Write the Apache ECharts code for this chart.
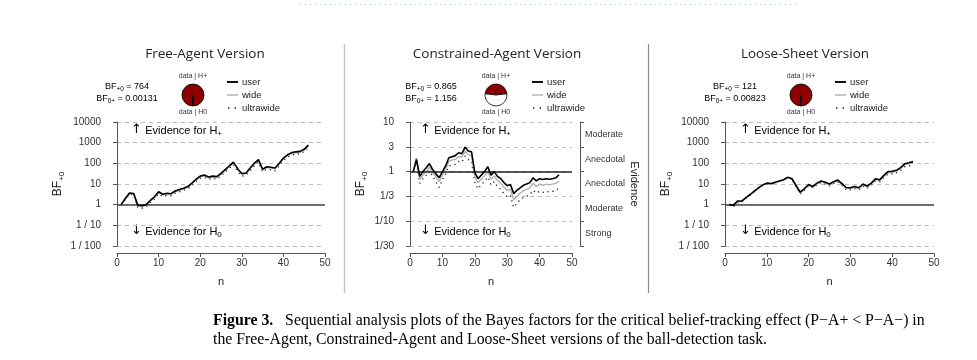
<!DOCTYPE html>
<html><head><meta charset="utf-8">
<script src="https://cdn.jsdelivr.net/npm/echarts@6/dist/echarts.min.js"></script>
<style>html,body{margin:0;padding:0;background:#fff}#c{width:977px;height:360px}</style>
</head><body><div id="c"></div>
<script>
// ---------- DATA ----------
const panelTitles = ['Free-Agent Version', 'Constrained-Agent Version', 'Loose-Sheet Version'];
const seriesNames = ['user', 'wide', 'ultrawide'];
const xTicks = [0, 10, 20, 30, 40, 50];
const tickLabelsWide = ['1 / 100', '1 / 10', '1', '10', '100', '1000', '10000'];
const tickLabelsNarrow = ['1/30', '1/10', '1/3', '1', '3', '10'];
const evidenceLabels = ['Strong', 'Moderate', 'Anecdotal', 'Anecdotal', 'Moderate'];
const bfPlus0 = [764, 0.865, 121];
const bfZeroPlus = ['0.00131', '1.156', '0.00823'];

const freeUser = [1, 2, 3.7, 3.5, 0.95, 0.9, 1.0, 1.6, 2.4, 4.2, 3.2, 3.6, 3.4, 4.6, 5.4, 6.2, 7.5, 11, 17, 24, 27, 22, 24, 23, 33, 50, 75, 115, 55, 32, 34, 60, 100, 150, 52, 68, 65, 60, 100, 180, 260, 330, 360, 380, 480, 764];
const freeWide = [1, 1.9, 3.5, 3.3, 0.9, 0.82, 0.95, 1.5, 2.2, 3.9, 3.0, 3.3, 3.2, 4.3, 5.0, 5.8, 7.0, 10, 16, 22, 25, 20, 22, 21, 30, 46, 70, 105, 50, 29, 31, 55, 92, 140, 48, 62, 60, 55, 92, 165, 240, 300, 330, 350, 440, 700];
const freeUltra = [1, 1.8, 3.3, 3.0, 0.75, 0.68, 0.8, 1.3, 1.9, 3.3, 2.5, 2.8, 2.7, 3.6, 4.2, 4.9, 5.8, 8.5, 13, 19, 21, 17, 19, 17, 25, 38, 58, 88, 41, 24, 26, 45, 76, 115, 39, 51, 49, 44, 76, 140, 200, 250, 280, 290, 370, 600];

const consUser = [1.0, 1.75, 0.8, 1.0, 1.2, 1.45, 1.1, 0.9, 0.75, 1.0, 1.3, 1.9, 2.0, 2.1, 2.4, 2.3, 3.1, 2.6, 2.5, 0.95, 0.72, 0.85, 1.0, 1.25, 0.85, 1.0, 0.8, 0.72, 0.6, 0.52, 0.55, 0.36, 0.42, 0.47, 0.53, 0.56, 0.6, 0.75, 0.65, 0.72, 0.69, 0.72, 0.7, 0.72, 0.75, 0.865];
const consWide = [1.0, 1.9, 0.7, 0.85, 1.0, 1.25, 0.95, 0.78, 0.63, 0.85, 1.1, 1.6, 1.7, 1.75, 2.0, 1.95, 2.6, 2.2, 2.1, 0.78, 0.6, 0.7, 0.82, 1.0, 0.7, 0.82, 0.66, 0.58, 0.48, 0.42, 0.44, 0.27, 0.32, 0.37, 0.41, 0.44, 0.47, 0.58, 0.5, 0.56, 0.53, 0.56, 0.54, 0.56, 0.58, 0.64];
const consUltra = [1.0, 1.7, 0.58, 0.72, 0.85, 1.05, 0.8, 0.62, 0.48, 0.68, 0.9, 1.3, 1.35, 1.4, 1.6, 1.55, 2.05, 1.75, 1.65, 0.6, 0.45, 0.55, 0.63, 0.78, 0.54, 0.63, 0.5, 0.44, 0.36, 0.31, 0.33, 0.19, 0.23, 0.27, 0.3, 0.32, 0.34, 0.42, 0.37, 0.4, 0.38, 0.4, 0.39, 0.4, 0.42, 0.47];

const looseUser = [1, 0.95, 1.5, 1.5, 2.2, 3.1, 4.5, 6.5, 9, 11, 10.5, 12, 14, 16, 21, 18, 8.5, 4.0, 6.0, 9.5, 7.5, 11, 14, 12, 10, 13, 15.5, 10.5, 6.8, 6.6, 7.6, 6.6, 10, 8, 11, 18, 16, 26, 40, 41, 46, 62, 95, 107, 121];
const looseWide = [1, 0.9, 1.35, 1.4, 2.1, 3.0, 4.4, 6.3, 8.8, 10.8, 10.2, 11.8, 13.8, 16, 21, 18, 8.2, 3.7, 5.6, 9.0, 7.0, 10.2, 13, 11, 9.2, 12, 14.2, 9.6, 6.1, 6.0, 6.9, 6.0, 9.1, 7.2, 10, 16.5, 14.5, 23.5, 36, 37, 42, 56, 86, 97, 110];
const looseUltra = [1, 0.8, 1.2, 1.3, 2.0, 2.9, 4.2, 6.1, 8.5, 10.5, 9.8, 11.4, 13.4, 15.6, 20.5, 17, 7.5, 3.2, 5.0, 8.2, 6.3, 9.2, 11.8, 9.9, 8.2, 10.8, 12.8, 8.5, 5.3, 5.2, 6.0, 5.2, 8.0, 6.3, 8.8, 14.5, 12.8, 21, 30, 31, 35, 46, 68, 76, 82];

// ---------- LAYOUT / STYLE ----------
const SANS = 'Liberation Sans, Arial, DejaVu Sans, sans-serif';
const TITLEF = 'Open Sans, Noto Sans, sans-serif';
const SERIF = 'Liberation Serif, Times New Roman, serif';
const grids = [
  {left: 117, top: 122, width: 208, height: 124},
  {left: 410, top: 122, width: 162, height: 124},
  {left: 725, top: 122, width: 209, height: 124}
];
const titleX = [200, 492, 800];
const bfTextX = [127, 431, 735];
const pieX = [193, 496, 801];
const legendX = [227, 532, 835];
const arrowX = [131, 420, 740];

const chart = echarts.init(document.getElementById('c'), null, {renderer: 'canvas'});

function pairs(arr) { return arr.map((v, i) => [i + 1, v]); }

const axisColor = '#555';
function xAxisFor(g) {
  return {
    type: 'value', gridIndex: g, min: 0, max: 50, interval: 10, offset: 7,
    axisLine: {show: true, lineStyle: {color: axisColor, width: 1}},
    axisTick: {show: true, length: 4, lineStyle: {color: axisColor}},
    axisLabel: {fontSize: 10, color: '#333', margin: 5, fontFamily: SANS},
    splitLine: {show: false},
    name: 'n', nameLocation: 'middle', nameGap: 23,
    nameTextStyle: {fontSize: 11, color: '#222', fontFamily: SANS}
  };
}
const bfName = '{a|BF}{s|+0}';
const bfNameStyle = {
  color: '#222', fontFamily: SANS,
  rich: {a: {fontSize: 12, fontFamily: SANS, color: '#222', verticalAlign: 'top'},
         s: {fontSize: 8, fontFamily: SANS, color: '#222', verticalAlign: 'top', padding: [6, 0, 0, 0]}}
};
function logAxisFor(g, wide) {
  const base = wide ? 10 : Math.sqrt(10);
  const labels = wide ? tickLabelsWide : tickLabelsNarrow;
  const minExp = wide ? -2 : -3;
  return {
    type: 'log', gridIndex: g, logBase: base,
    min: Math.pow(base, minExp), max: wide ? 10000 : 10, interval: 1, offset: 11,
    axisLine: {show: true, lineStyle: {color: axisColor, width: 1}},
    axisTick: {show: true, length: 4, lineStyle: {color: axisColor}},
    axisLabel: {
      fontSize: 10, color: '#333', margin: 5, fontFamily: SANS,
      formatter: function (v) {
        const k = Math.round(Math.log(v) / Math.log(base)) - minExp;
        return labels[k] !== undefined ? labels[k] : '';
      }
    },
    minorTick: {show: false}, minorSplitLine: {show: false},
    splitLine: {show: true, lineStyle: {type: [4, 4], color: '#bdbdbd', width: 1}},
    name: bfName, nameLocation: 'middle', nameRotate: 90, nameGap: wide ? 40 : 30,
    nameTextStyle: bfNameStyle
  };
}

const panels = [
  {user: freeUser, wide: freeWide, ultra: freeUltra},
  {user: consUser, wide: consWide, ultra: consUltra},
  {user: looseUser, wide: looseWide, ultra: looseUltra}
];
const yIdx = [0, 1, 3];

const series = [];
panels.forEach((p, g) => {
  series.push({
    name: 'ultrawide', type: 'line', xAxisIndex: g, yAxisIndex: yIdx[g], data: pairs(p.ultra),
    symbol: 'none', color: '#222', lineStyle: {color: '#222', width: 1.4, type: [1.2, 3.8]}, z: 3, animation: false, silent: true
  });
  series.push({
    name: 'wide', type: 'line', xAxisIndex: g, yAxisIndex: yIdx[g], data: pairs(p.wide),
    symbol: 'none', color: '#b0b0b0', lineStyle: {color: '#b0b0b0', width: 1.4}, z: 4, animation: false, silent: true
  });
  series.push({
    name: 'user', type: 'line', xAxisIndex: g, yAxisIndex: yIdx[g], data: pairs(p.user),
    symbol: 'none', color: '#000', lineStyle: {color: '#000', width: 1.6}, z: 5, animation: false, silent: true,
    markLine: {silent: true, symbol: 'none', label: {show: false}, animation: false,
      lineStyle: {type: 'solid', color: g === 1 ? '#222' : '#444', width: 1.5}, data: [{yAxis: 1}]}
  });
  const pPlus = bfPlus0[g] / (bfPlus0[g] + 1);
  series.push({
    type: 'pie', center: [pieX[g], 95], radius: 11, startAngle: 90 + 180 * pPlus, clockwise: true,
    silent: true, animation: false, label: {show: false}, labelLine: {show: false},
    itemStyle: {borderColor: '#000', borderWidth: 0.8},
    data: [{value: bfPlus0[g], name: 'data | H+', itemStyle: {color: '#8B0000'}},
           {value: 1, name: 'data | H0', itemStyle: {color: '#ffffff'}}]
  });
});

const graphic = [];
// panel dividers
graphic.push({type: 'line', shape: {x1: 344.5, y1: 44, x2: 344.5, y2: 293}, style: {stroke: '#c4c4c4', lineWidth: 1.5}, silent: true});
graphic.push({type: 'line', shape: {x1: 648.5, y1: 44, x2: 648.5, y2: 293}, style: {stroke: '#8a8a8a', lineWidth: 1.2}, silent: true});
// top dotted rule
graphic.push({type: 'line', shape: {x1: 300, y1: 4.5, x2: 797, y2: 4.5}, style: {stroke: '#9fc3dc', lineWidth: 1, lineDash: [1, 4]}, silent: true});

const richSmall = {
  a: {fontSize: 9, fontFamily: SANS, color: '#222', verticalAlign: 'top'},
  s: {fontSize: 6.5, fontFamily: SANS, color: '#222', verticalAlign: 'top', padding: [4, 0, 0, 0]}
};
const richEv = {
  ar: {fontSize: 13, fontFamily: 'DejaVu Sans, sans-serif', color: '#111', verticalAlign: 'top', padding: [-1, 0, 0, 0]},
  t: {fontSize: 11, fontFamily: SANS, color: '#222', verticalAlign: 'top', padding: [1, 0, 0, 0]},
  s: {fontSize: 8, fontFamily: SANS, color: '#222', verticalAlign: 'top', padding: [6, 0, 0, 0]}
};
for (let g = 0; g < 3; g++) {
  graphic.push({type: 'text', x: bfTextX[g], y: 82, silent: true,
    style: {text: '{a|BF}{s|+0}{a| = ' + bfPlus0[g] + '}', rich: richSmall, align: 'center'}});
  graphic.push({type: 'text', x: bfTextX[g], y: 94, silent: true,
    style: {text: '{a|BF}{s|0+}{a| = ' + bfZeroPlus[g] + '}', rich: richSmall, align: 'center'}});
  graphic.push({type: 'text', x: pieX[g], y: 73, silent: true,
    style: {text: 'data | H+', fontSize: 7, fontFamily: SANS, fill: '#333', align: 'center'}});
  graphic.push({type: 'text', x: pieX[g], y: 109, silent: true,
    style: {text: 'data | H0', fontSize: 7, fontFamily: SANS, fill: '#333', align: 'center'}});
  graphic.push({type: 'text', x: arrowX[g], y: 124, silent: true,
    style: {text: '{ar|↑} {t|Evidence for H}{s|+}', rich: richEv}});
  graphic.push({type: 'text', x: arrowX[g], y: 225, silent: true,
    style: {text: '{ar|↓} {t|Evidence for H}{s|0}', rich: richEv}});
  // legend keys
  const lx = legendX[g];
  graphic.push({type: 'line', shape: {x1: lx, y1: 82, x2: lx + 11, y2: 82}, style: {stroke: '#111', lineWidth: 2}, silent: true});
  graphic.push({type: 'line', shape: {x1: lx, y1: 95, x2: lx + 11, y2: 95}, style: {stroke: '#b0b0b0', lineWidth: 1.4}, silent: true});
  graphic.push({type: 'line', shape: {x1: lx + 1, y1: 108, x2: lx + 11, y2: 108}, style: {stroke: '#222', lineWidth: 1.5, lineDash: [1.4, 5.2]}, silent: true});
  seriesNames.forEach((nm, i) => {
    graphic.push({type: 'text', x: lx + 15, y: 82 + 13 * i, silent: true,
      style: {text: nm, fontSize: 9.5, fontFamily: SANS, fill: '#222', verticalAlign: 'middle'}});
  });
}
// caption
const richCap = {
  b: {fontSize: 15.8, fontFamily: SERIF, fontWeight: 'bold', color: '#111'},
  r: {fontSize: 15.8, fontFamily: SERIF, color: '#111'}
};
graphic.push({type: 'text', x: 213, y: 313, silent: true,
  style: {text: '{b|Figure 3.}{r|   Sequential analysis plots of the Bayes factors for the critical belief-tracking effect (P−A+ < P−A−) in}', rich: richCap}});
graphic.push({type: 'text', x: 213, y: 332, silent: true,
  style: {text: '{r|the Free-Agent, Constrained-Agent and Loose-Sheet versions of the ball-detection task.}', rich: richCap}});

const option = {
  animation: false,
  backgroundColor: '#ffffff',
  title: panelTitles.map((t, g) => ({
    text: t, left: titleX[g], top: 42, textAlign: 'center',
    textStyle: {fontSize: 13.5, fontWeight: 'normal', color: '#222', fontFamily: TITLEF}
  })),
  grid: grids.map(g => Object.assign({containLabel: false}, g)),
  xAxis: [xAxisFor(0), xAxisFor(1), xAxisFor(2)],
  yAxis: [
    logAxisFor(0, true),
    logAxisFor(1, false),
    {
      type: 'category', gridIndex: 1, position: 'right', offset: 8, data: evidenceLabels, boundaryGap: true,
      axisLine: {show: true, lineStyle: {color: axisColor}},
      axisTick: {show: true, length: 4, alignWithLabel: false, lineStyle: {color: axisColor}},
      axisLabel: {fontSize: 9, color: '#333', margin: 5, fontFamily: SANS},
      splitLine: {show: false},
      name: 'Evidence', nameLocation: 'middle', nameRotate: -90, nameGap: 49,
      nameTextStyle: {fontSize: 11, color: '#222', fontFamily: SANS}
    },
    logAxisFor(2, true)
  ],
  series: series,
  graphic: graphic
};
chart.setOption(option);
</script>
</body></html>
